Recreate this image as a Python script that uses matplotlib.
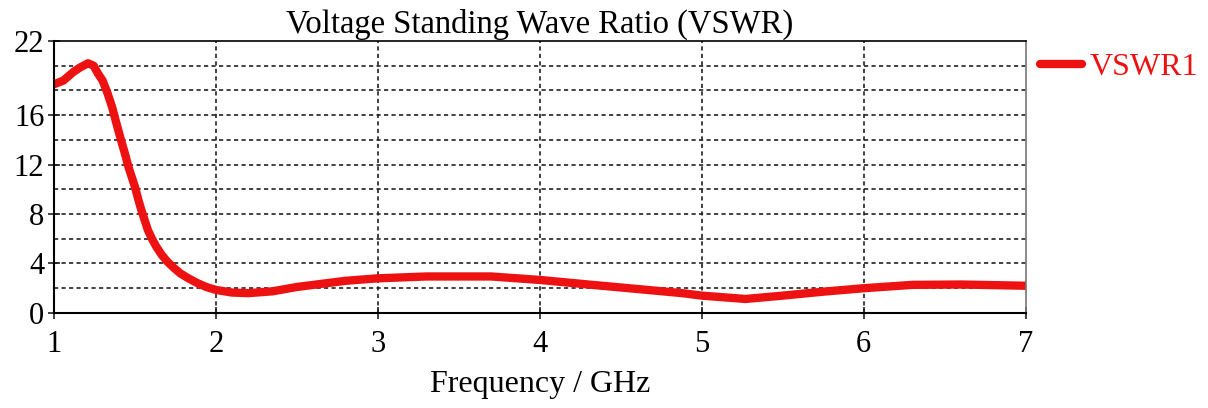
import matplotlib
matplotlib.use("Agg")
import matplotlib.pyplot as plt

freq = [1.0, 1.058, 1.12, 1.16, 1.21, 1.245, 1.27, 1.30, 1.33, 1.36, 1.38, 1.42, 1.44, 1.46,
        1.50, 1.52, 1.54, 1.56, 1.58, 1.605, 1.63, 1.665, 1.70, 1.74, 1.78, 1.83, 1.88, 1.94,
        2.0, 2.1, 2.2, 2.35, 2.5, 2.8, 3.0, 3.3, 3.7, 4.0, 4.3, 4.6,
        4.88, 5.0, 5.27, 5.5, 5.75, 6.0, 6.3, 6.6, 7.0]
vswr = [18.5, 18.8, 19.5, 19.85, 20.2, 20.0, 19.4, 18.8, 17.8, 16.6, 15.6, 13.7, 12.8, 11.8,
        10.2, 9.2, 8.3, 7.5, 6.7, 6.0, 5.4, 4.7, 4.15, 3.65, 3.2, 2.8, 2.45, 2.1,
        1.86, 1.65, 1.6, 1.75, 2.1, 2.6, 2.8, 2.95, 2.95, 2.67, 2.3, 1.94,
        1.6, 1.4, 1.13, 1.4, 1.72, 2.0, 2.27, 2.3, 2.2]

x_ticks = [1, 2, 3, 4, 5, 6, 7]
y_ticks = [0, 4, 8, 12, 16, 22]
y_grid = [2, 4, 6, 8, 10, 12, 14, 16, 18, 20]

title = "Voltage Standing Wave Ratio (VSWR)"
xlabel = "Frequency / GHz"
series_name = "VSWR1"

plt.rcParams['font.family'] = ['Liberation Serif', 'DejaVu Serif']

fig = plt.figure(figsize=(12.08, 4.08), dpi=100)
ax = fig.add_axes([0.0447, 0.233, 0.8043, 0.6665])

line, = ax.plot(freq, vswr, color='#ee1111', lw=6, solid_capstyle='round',
                solid_joinstyle='round', label=series_name)

ax.set_xlim(1, 7)
ax.set_ylim(0, 22)
ax.set_xticks(x_ticks)
ax.set_xticklabels([str(t) for t in x_ticks])
ax.set_yticks(y_ticks)
ax.set_yticklabels([str(t) for t in y_ticks])

for g in y_grid:
    ax.axhline(g, color='#222222', lw=1.2, ls=(0, (2.5, 2)), zorder=0)
for g in x_ticks[1:-1]:
    ax.axvline(g, color='#222222', lw=1.2, ls=(0, (2.5, 2)), zorder=0)

ax.tick_params(axis='both', labelsize=22, direction='inout', length=8, width=1.2,
               color='#222222')
ax.tick_params(axis='x', pad=8)
ax.tick_params(axis='y', pad=3)
ax.spines['left'].set_linewidth(1.5)
ax.spines['bottom'].set_linewidth(1.5)
ax.spines['top'].set_linewidth(1.2)
ax.spines['right'].set_color('#777777')
ax.spines['right'].set_linewidth(1.2)

ax.set_title(title, fontsize=23.5, pad=6)
ax.set_xlabel(xlabel, fontsize=23, labelpad=8)

leg = fig.legend(handles=[line], labels=[series_name], loc='upper left',
                 bbox_to_anchor=(1040 / 1208, 1 - 53 / 408), frameon=False, fontsize=23,
                 handlelength=1.3, handletextpad=0.25, borderpad=0, borderaxespad=0)
for t in leg.get_texts():
    t.set_color('#ee1111')

fig.savefig("out.png", dpi=100)
